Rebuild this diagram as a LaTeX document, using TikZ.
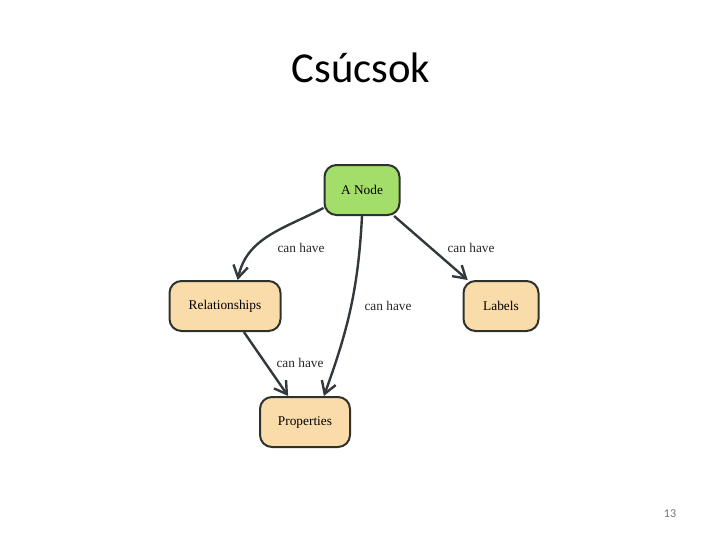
\documentclass[tikz,border=0pt]{standalone}
\usepackage{fontspec}
\setmainfont{Liberation Serif}
\newfontfamily\slidefont{Carlito}
\usetikzlibrary{arrows.meta}

\definecolor{nodegreen}{RGB}{164,222,106}
\definecolor{nodepeach}{RGB}{250,220,170}
\definecolor{edgegray}{RGB}{50,56,60}
\definecolor{boxline}{RGB}{45,50,45}

\begin{document}
\begin{tikzpicture}[x=0.75pt,y=0.75pt,yscale=-1,xscale=1,
  gbox/.style={draw=boxline,line width=1.5pt,rounded corners=9pt,minimum height=37.5pt,inner sep=0pt,font=\fontsize{10}{12}\selectfont},
  canhave/.style={font=\fontsize{10}{12}\selectfont,text=black!85,inner sep=0.75pt},
  rel/.style={draw=edgegray,line width=1.8pt,-{Straight Barb[length=9pt,width=11pt,line width=1.8pt]}}]
%set diagram to 720 x 540
\useasboundingbox (0,0) rectangle (720,540);

% Title
\node (title) at (361,68) {\slidefont\fontsize{32}{36}\selectfont Csúcsok};
\node [text=black!55] (pagenum) at (670,514) {\slidefont\fontsize{9}{11}\selectfont 13};

% Nodes
\node [gbox,fill=nodegreen,minimum width=56.25pt] (anode) at (362,190) {A Node};
\node [gbox,fill=nodepeach,minimum width=83.25pt] (relships) at (225,306) {Relationships};
\node [gbox,fill=nodepeach,minimum width=56.25pt] (labels) at (501,306) {Labels};
\node [gbox,fill=nodepeach,minimum width=67.5pt] (props) at (305,422) {Properties};

% Edges (yscale=-1, so to-angles are flipped)
\draw [rel] (anode.205) to[out=152,in=-78] (relships.64);
\draw [rel] (anode.-39) -- (labels.142);
\draw [rel] (anode.-90) to[out=93,in=-70] (props.54);
\draw [rel] (relships.-54) -- (props.123);

% Edge labels
\node [canhave] (lab1) at (301,248) {can have};
\node [canhave] (lab2) at (471,248) {can have};
\node [canhave] (lab3) at (388,306) {can have};
\node [canhave] (lab4) at (300,363) {can have};

\end{tikzpicture}
\end{document}
